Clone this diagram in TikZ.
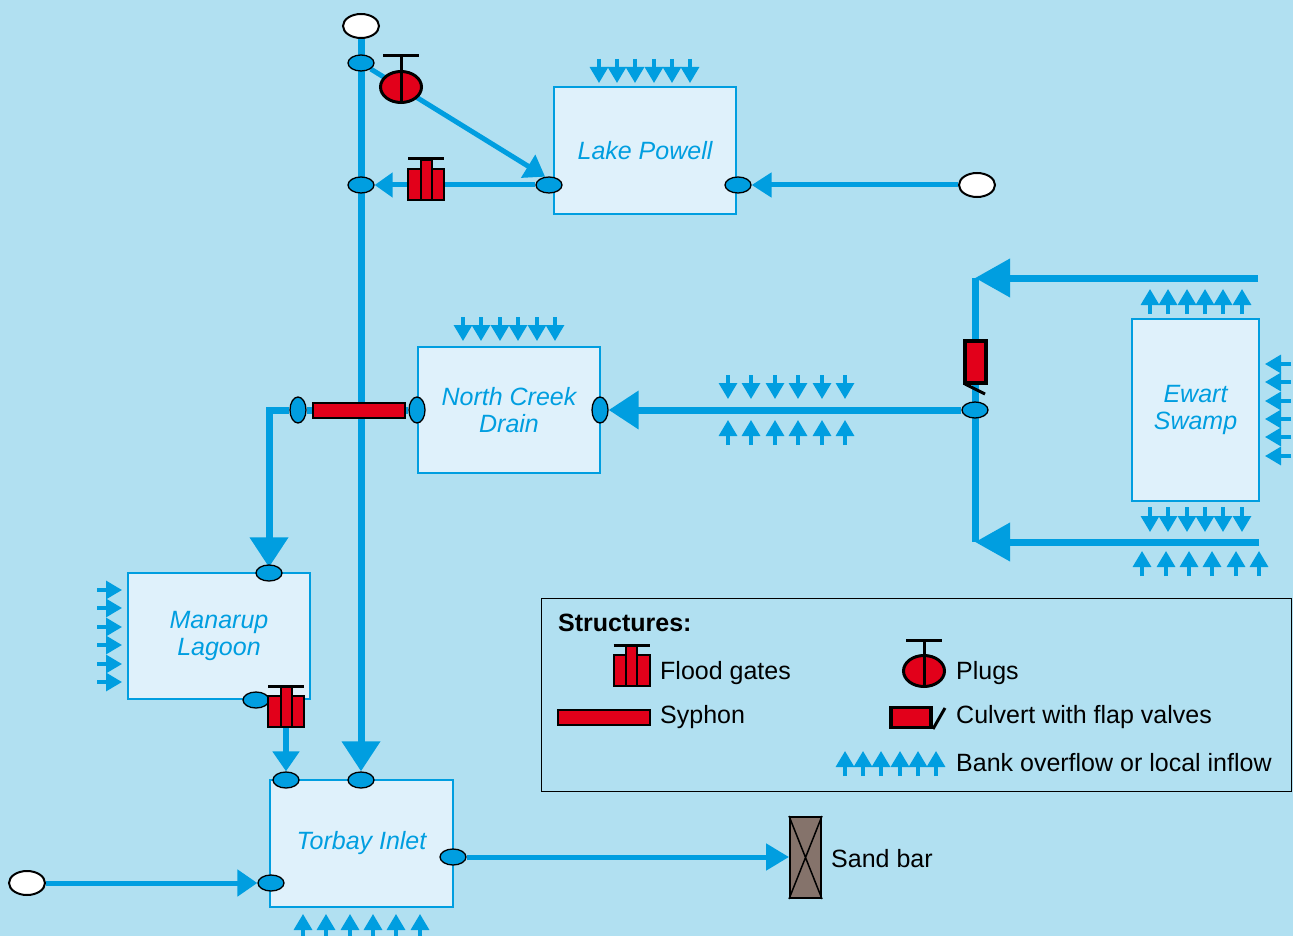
\documentclass[tikz,border=0pt]{standalone}
\usepackage{fontspec}
\setmainfont{Liberation Sans}
\usetikzlibrary{arrows.meta,shapes.geometric}
\definecolor{bgc}{HTML}{B1E0F1}
\definecolor{boxc}{HTML}{DFF1FB}
\definecolor{wblue}{HTML}{009EE0}
\definecolor{sred}{HTML}{E2001A}
\definecolor{sbar}{HTML}{85736B}
\pgfdeclarelayer{bgl}\pgfdeclarelayer{conn}\pgfsetlayers{bgl,conn,main}
\newcommand{\txt}{\fontsize{25}{27}\selectfont}
\tikzset{
 water/.style={draw=wblue,fill=boxc,line width=1.6pt,inner sep=0pt,minimum width=#1,text=wblue,font=\txt\itshape,align=center},
 water/.default=182pt,
 portn/.style={ellipse,draw=black,fill=wblue,line width=1.3pt,inner sep=0pt,minimum width=26pt,minimum height=16pt},
 portv/.style={ellipse,draw=black,fill=wblue,line width=1.3pt,inner sep=0pt,minimum width=16pt,minimum height=26pt},
 openend/.style={ellipse,draw=black,fill=white,line width=2pt,inner sep=0pt,minimum width=36pt,minimum height=24pt},
 bigflow/.style={draw=wblue,line width=7pt,-{Triangle[length=30pt,width=37pt]}},
 midflow/.style={draw=wblue,line width=5pt,-{Triangle[length=20pt,width=26pt]}},
 plainflow/.style={draw=wblue,line width=7pt},
 inflow/.style={draw=wblue,line width=3.2pt,-{Triangle[length=16pt,width=18pt]}},
 redbox/.style={draw=black,fill=sred,line width=2pt,inner sep=0pt},
 blk/.style={draw=black,line width=3pt},
 label/.style={font=\txt,text=black,anchor=base west,inner sep=0pt},
}
\newcommand{\gate}[3]{% name, x centre, y top of body
 \node[redbox,minimum width=36pt,minimum height=31pt] (#1) at (#2,#3+15.5) {};
 \node[redbox,minimum width=11pt,minimum height=40pt] (#1col) at (#2,#3+11) {};
 \draw[blk] (#2-18,#3-10) -- (#2+18,#3-10);
}
\newcommand{\plug}[3]{% name, x, y
 \node[ellipse,draw=black,fill=sred,line width=3pt,inner sep=0pt,minimum width=41pt,minimum height=31pt] (#1) at (#2,#3) {};
 \draw[blk] (#2,#3+15) -- (#2,#3-31);
 \draw[blk] (#2-18,#3-31) -- (#2+18,#3-31);
}
\begin{document}
\begin{tikzpicture}[x=1pt,y=-1pt]
\useasboundingbox (0,0) rectangle (1293,936);
\clip (0,0) rectangle (1293,936);
\begin{pgfonlayer}{bgl}
\fill[bgc] (0,0) rectangle (1293,936);
\end{pgfonlayer}

% water bodies
\node[water,minimum height=127pt] (lake) at (645,150.5) {Lake Powell};
\node[water,minimum height=126pt] (north) at (509,410) {North Creek\\Drain};
\node[water=127pt,minimum height=182pt] (ewart) at (1195.5,410) {Ewart\\Swamp};
\node[water,minimum height=126pt] (manarup) at (219,636) {Manarup\\Lagoon};
\node[water=183pt,minimum height=127pt] (torbay) at (361.5,843.5) {Torbay Inlet};

% ports and open ends
\node[openend] (top) at (361,26) {};
\node[openend] (east) at (977,185) {};
\node[openend] (west) at (27,883) {};
\node[portn] (p1) at (361,63) {};
\node[portn] (p2) at (361,185) {};
\node[portn] (lw) at (549,185) {};
\node[portn] (le) at (738,185) {};
\node[portv] (sw) at (298,410) {};
\node[portv] (nw) at (417,410) {};
\node[portv] (ne) at (600,410) {};
\node[portn] (ej) at (975,410) {};
\node[portn] (mt) at (269,573) {};
\node[portn] (mb) at (256,700) {};
\node[portn] (t1) at (286,780) {};
\node[portn] (t2) at (361,780) {};
\node[portn] (tw) at (271,883) {};
\node[portn] (te) at (453,857) {};

% structures
\plug{pg}{401}{87}
\gate{g1}{426}{169}
\gate{g2}{286}{696}
\node[redbox,minimum width=92pt,minimum height=15pt] (sy) at (359,410) {};
\node[draw=black,fill=sred,line width=3.2pt,inner sep=0pt,minimum width=21pt,minimum height=42pt] (cv) at (975.5,362) {};
\draw[blk] (965,384) -- (985,394);
\node[draw=black,fill=sbar,line width=2pt,inner sep=0pt,minimum width=31pt,minimum height=81pt] (sand) at (805.5,857.5) {};
\draw[draw=black,line width=1.5pt] (sand.north west) -- (sand.south east) (sand.north east) -- (sand.south west);
\node[label] (sandl) at (831,867) {Sand bar};

% free ends
\coordinate (et) at (975,278);
\coordinate (eb) at (975,542);
\coordinate (etail) at (1258,278);
\coordinate (btail) at (1259,542);
\coordinate (sc) at (269,410);

% connectors
\begin{pgfonlayer}{conn}
\draw[bigflow] (top) -- (t2);
\draw[midflow] (p1) -- (lw.115);
\draw[midflow,-{Triangle[length=18pt,width=24pt]}] (lw) -- (p2);
\draw[midflow,-{Triangle[length=20pt,width=24pt]}] (east) -- (le);
\draw[plainflow] (et) -- (eb);
\draw[bigflow,-{Triangle[length=35pt,width=37pt]}] (etail) -- (et);
\draw[bigflow,-{Triangle[length=35pt,width=37pt]}] (btail) -- (eb);
\draw[bigflow] (ej) -- (ne);
\draw[plainflow] (nw) -- (sw);
\draw[bigflow,line join=miter,shorten >=-3pt] (sw) -- (sc) -- (mt);
\draw[draw=wblue,line width=6pt,-{Triangle[length=20pt,width=26pt]}] (g2) -- (t1);
\draw[midflow] (west) -- (tw);
\draw[midflow,-{Triangle[length=23pt,width=26pt]}] (te) -- (te -| sand.west);
\end{pgfonlayer}

% inflow rows
\foreach \x in {599,617,635,654,672,690} \draw[inflow] (\x,59) -- (\x,83);
\foreach \x in {463,481,500,518,537,555} \draw[inflow] (\x,317) -- (\x,341);
\foreach \x in {728,751,775,798,822,845} {
 \draw[inflow] (\x,375) -- (\x,399);
 \draw[inflow] (\x,445) -- (\x,420);
}
\foreach \x in {1150,1168,1187,1205,1223,1242} {
 \draw[inflow] (\x,314) -- (\x,289);
 \draw[inflow] (\x,507) -- (\x,532);
}
\foreach \x in {1142,1166,1189,1212,1236,1259} \draw[inflow] (\x,576) -- (\x,551);
\foreach \y in {364,382,401,419,437,456} \draw[inflow] (1291,\y) -- (1265,\y);
\foreach \y in {590,608,627,645,664,682} \draw[inflow] (97,\y) -- (122,\y);
\foreach \x in {303,326,350,373,396,420} \draw[inflow] (\x,940) -- (\x,914);

% legend
\node[draw=black,line width=1pt,inner sep=0pt,minimum width=750pt,minimum height=193pt] (legend) at (916,694.5) {};
\node[label,font=\txt\bfseries] (lt) at (558,631) {Structures:};
\gate{lg1}{631.5}{655}
\node[label] (l1) at (660,679.5) {Flood gates};
\node[redbox,minimum width=92pt,minimum height=15pt] (lsy) at (603.5,717.5) {};
\node[label] (l2) at (660,723.5) {Syphon};
\plug{lpg}{924}{671}
\node[label] (l3) at (956,679.5) {Plugs};
\node[draw=black,fill=sred,line width=3.2pt,inner sep=0pt,minimum width=40pt,minimum height=20pt] (lcv) at (911,717.5) {};
\draw[blk] (933,729) -- (945,708);
\node[label] (l4) at (956,723.5) {Culvert with flap valves};
\foreach \x in {845,863,881,900,918,936} \draw[inflow] (\x,776) -- (\x,751);
\node[label] (l5) at (956,771.5) {Bank overflow or local inflow};
\end{tikzpicture}
\end{document}
